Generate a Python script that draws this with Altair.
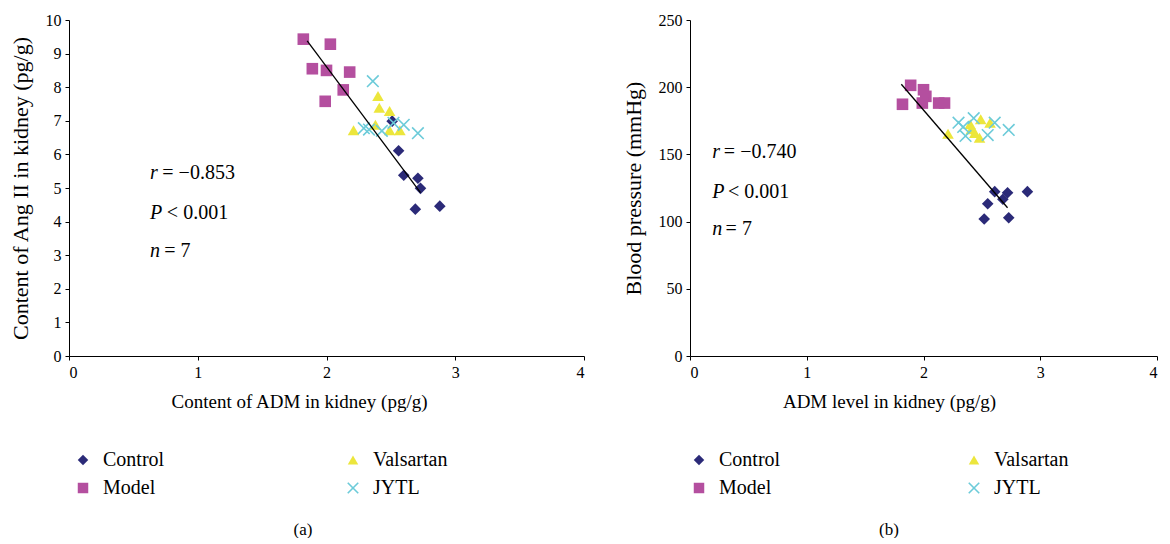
import altair as alt
import pandas as pd

# Legend order (filled column by column -> Control/Model left, Valsartan/JYTL right)
GROUPS = ["Control", "Model", "Valsartan", "JYTL"]
SHAPES = ["diamond", "square", "triangle-up", "M-1,-1L1,1M-1,1L1,-1"]
FILLS = ["#2b2a78", "#b44f9f", "#ece63c", "transparent"]
STROKES = ["transparent", "transparent", "transparent", "#6ccbd9"]

# ---------- Panel (a): ADM vs Ang II ----------
a_control_x = [2.51, 2.56, 2.60, 2.71, 2.73, 2.69, 2.88]
a_control_y = [6.99, 6.11, 5.38, 5.29, 4.99, 4.37, 4.46]
a_model_x = [1.82, 2.03, 1.89, 2.00, 2.18, 2.13, 1.99]
a_model_y = [9.43, 9.28, 8.55, 8.50, 8.45, 7.92, 7.58]
a_vals_x = [2.40, 2.41, 2.49, 2.21, 2.38, 2.49, 2.57]
a_vals_y = [7.74, 7.39, 7.29, 6.72, 6.88, 6.72, 6.72]
a_jytl_x = [2.36, 2.29, 2.33, 2.43, 2.52, 2.60, 2.71]
a_jytl_y = [8.18, 6.78, 6.74, 6.70, 6.94, 6.88, 6.63]
a_fit_x = [1.85, 2.73]
a_fit_y = [9.38, 4.86]
a_stats = ["r", "P", "n"]
a_stats_rest = ["= \u22120.853", "< 0.001", "= 7"]
a_stats_y = [5.45, 4.26, 3.13]

# ---------- Panel (b): ADM vs blood pressure ----------
b_control_x = [2.61, 2.72, 2.89, 2.55, 2.68, 2.52, 2.73]
b_control_y = [122.3, 121.5, 122.3, 113.3, 116.6, 101.9, 102.9]
b_model_x = [1.89, 2.00, 2.02, 1.82, 1.99, 2.13, 2.18]
b_model_y = [201.4, 198.1, 193.2, 187.3, 188.2, 188.2, 188.2]
b_vals_x = [2.21, 2.49, 2.57, 2.40, 2.41, 2.44, 2.48]
b_vals_y = [165.4, 176.1, 173.6, 172.4, 168.7, 166.0, 162.4]
b_jytl_x = [2.30, 2.43, 2.34, 2.36, 2.55, 2.61, 2.73]
b_jytl_y = [173.6, 176.9, 170.4, 163.7, 164.4, 173.6, 168.2]
b_fit_x = [1.81, 2.72]
b_fit_y = [202.2, 110.3]
b_stats = ["r", "P", "n"]
b_stats_rest = ["= \u22120.740", "< 0.001", "= 7"]
b_stats_y = [151.8, 122.0, 94.5]

FONT = "Liberation Serif"


def points_df(cx, cy, mx, my, vx, vy, jx, jy):
    rows = []
    for g, xs, ys in [("Control", cx, cy), ("Model", mx, my),
                      ("Valsartan", vx, vy), ("JYTL", jx, jy)]:
        rows += [{"x": a, "y": b, "group": g} for a, b in zip(xs, ys)]
    return pd.DataFrame(rows)


def panel(df, fit_x, fit_y, stats, rest, stats_y, stat_lx, stat_rx,
          xtitle, ytitle, ymax, ystep, width, caption, title_x, cap_x, col_pad, leg_x):
    xs = alt.Scale(domain=[0, 4], nice=False, zero=True)
    ys = alt.Scale(domain=[0, ymax], nice=False)
    xaxis = alt.Axis(values=[0, 1, 2, 3, 4], title=xtitle, format="d",
                     titleX=title_x, titleAnchor="start", titleAlign="center",
                     labelOverlap=False)
    yaxis = alt.Axis(values=list(range(0, ymax + 1, ystep)), title=ytitle,
                     format="d", labelOverlap=False)
    X = alt.X("x:Q", scale=xs, axis=xaxis)
    Y = alt.Y("y:Q", scale=ys, axis=yaxis)
    leg = alt.Legend(title=None, orient="none", legendX=leg_x, legendY=430,
                     columns=2, columnPadding=col_pad, rowPadding=8,
                     labelFont=FONT, labelFontSize=20, labelColor="black",
                     symbolSize=110, symbolStrokeWidth=1.6, labelOffset=10,
                     padding=0)
    pts = alt.Chart(df).mark_point(filled=True, opacity=1, size=135, strokeWidth=1.6).encode(
        x=X, y=Y,
        shape=alt.Shape("group:N", scale=alt.Scale(domain=GROUPS, range=SHAPES), legend=leg),
        fill=alt.Fill("group:N", scale=alt.Scale(domain=GROUPS, range=FILLS), legend=leg),
        stroke=alt.Stroke("group:N", scale=alt.Scale(domain=GROUPS, range=STROKES), legend=leg),
    )
    fit = alt.Chart(pd.DataFrame({"x": fit_x, "y": fit_y})).mark_line(
        color="black", strokeWidth=1.3).encode(x=X, y=Y)
    sdf = pd.DataFrame({"letter": stats, "rest": rest, "y": stats_y,
                        "lx": [stat_lx] * 3, "rx": stat_rx})
    let = alt.Chart(sdf).mark_text(font=FONT, fontSize=20, fontStyle="italic",
                                   align="left", baseline="middle", color="black").encode(
        x=alt.X("lx:Q", scale=xs, axis=xaxis), y=Y, text="letter:N")
    rst = alt.Chart(sdf).mark_text(font=FONT, fontSize=20, align="left",
                                   baseline="middle", color="black").encode(
        x=alt.X("rx:Q", scale=xs, axis=xaxis), y=Y, text="rest:N")
    cap = alt.Chart(pd.DataFrame({"t": [caption]})).mark_text(
        font=FONT, fontSize=17, align="center", baseline="middle", color="black").encode(
        x=alt.value(cap_x), y=alt.value(510), text="t:N")
    return alt.layer(pts, fit, let, rst, cap).properties(width=width, height=336)


left = panel(points_df(a_control_x, a_control_y, a_model_x, a_model_y,
                       a_vals_x, a_vals_y, a_jytl_x, a_jytl_y),
             a_fit_x, a_fit_y, a_stats, a_stats_rest, a_stats_y,
             0.63, [0.725, 0.76, 0.74],
             "Content of ADM in kidney (pg/g)", "Content of Ang II in kidney (pg/g)",
             10, 1, 515, "(a)", 230, 234, 178, 4)

right = panel(points_df(b_control_x, b_control_y, b_model_x, b_model_y,
                        b_vals_x, b_vals_y, b_jytl_x, b_jytl_y),
              b_fit_x, b_fit_y, b_stats, b_stats_rest, b_stats_y,
              0.19, [0.29, 0.325, 0.305],
              "ADM level in kidney (pg/g)", "Blood pressure (mmHg)",
              250, 50, 467, "(b)", 199, 199, 183, -1)

chart = alt.hconcat(left, right, spacing=37).resolve_scale(
    shape="independent", fill="independent", stroke="independent", x="independent", y="independent"
).resolve_legend(
    shape="independent", fill="independent", stroke="independent"
).configure_view(stroke=None).configure_axis(
    grid=False, domainColor="black", tickColor="black", labelColor="black",
    titleColor="black", labelFont=FONT, titleFont=FONT, labelFontSize=16,
    titleFontWeight="normal", tickSize=4, labelPadding=4,
    domainWidth=1, tickWidth=1
).configure_axisY(titlePadding=13, titleFontSize=22).configure_axisX(
    titlePadding=12, titleFontSize=19).properties(
    background="white", padding={"left": 1, "top": 4, "right": 0, "bottom": 0})

chart.save("out.html", embed_options={"renderer": "svg", "actions": False})
